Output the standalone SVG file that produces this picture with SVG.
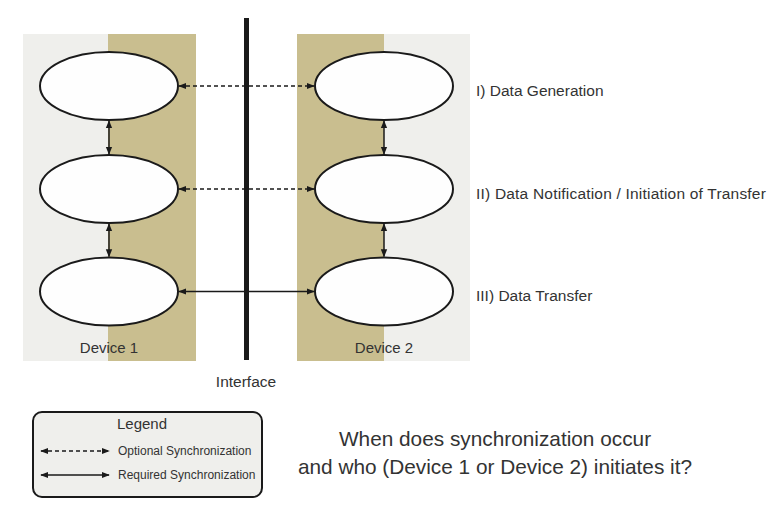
<svg xmlns="http://www.w3.org/2000/svg" width="782" height="508" viewBox="0 0 782 508">
<style>
.bg{fill:#efefec}
.tan{fill:#c9be8f}
.node{fill:#fefefe;stroke:#1a1a1a;stroke-width:2}
.c{stroke:#1a1a1a;stroke-width:1.5;fill:none}
.opt{stroke-dasharray:4 3}
text{font-family:"Liberation Sans",Arial,sans-serif;fill:#333}
.lab{font-size:15.5px}
.wide{font-size:15.5px;letter-spacing:0.2px}
.dev{font-size:15px}
.sm{font-size:12px}
.q{font-size:20.8px}
</style>
<defs>
<marker id="ah" viewBox="0 0 10 10" refX="9" refY="5" markerWidth="8" markerHeight="8" markerUnits="userSpaceOnUse" orient="auto-start-reverse">
<path d="M0,1 L10,5 L0,9 Z" fill="#1a1a1a"/>
</marker>
</defs>
<g id="device1-panel">
<rect class="bg" x="23" y="34" width="173" height="327"/>
<rect class="tan" x="108" y="34" width="88" height="327"/>
<text class="dev" x="109" y="353" text-anchor="middle">Device 1</text>
</g>
<g id="device2-panel">
<rect class="bg" x="297" y="34" width="173" height="327"/>
<rect class="tan" x="297" y="34" width="87" height="327"/>
<text class="dev" x="384" y="353" text-anchor="middle">Device 2</text>
</g>
<g id="interface">
<rect x="244" y="18" width="5" height="342" fill="#1a1a1a"/>
<text class="lab" x="246" y="387" text-anchor="middle">Interface</text>
</g>
<g id="d1-gen"><ellipse class="node" cx="109" cy="86" rx="69" ry="34"/></g>
<g id="d1-notif"><ellipse class="node" cx="109" cy="189" rx="69" ry="34"/></g>
<g id="d1-transfer"><ellipse class="node" cx="109" cy="291.5" rx="69" ry="34"/></g>
<g id="d2-gen"><ellipse class="node" cx="384" cy="86" rx="69" ry="34"/></g>
<g id="d2-notif"><ellipse class="node" cx="384" cy="189" rx="69" ry="34"/></g>
<g id="d2-transfer"><ellipse class="node" cx="384" cy="291.5" rx="69" ry="34"/></g>
<g id="connectors">
<line class="c opt" x1="179" y1="86" x2="314" y2="86" marker-start="url(#ah)" marker-end="url(#ah)"/>
<line class="c opt" x1="179" y1="189" x2="314" y2="189" marker-start="url(#ah)" marker-end="url(#ah)"/>
<line class="c" x1="179" y1="291.5" x2="314" y2="291.5" marker-start="url(#ah)" marker-end="url(#ah)"/>
<line class="c" x1="109" y1="121" x2="109" y2="154" marker-start="url(#ah)" marker-end="url(#ah)"/>
<line class="c" x1="109" y1="224" x2="109" y2="256.5" marker-start="url(#ah)" marker-end="url(#ah)"/>
<line class="c" x1="384" y1="121" x2="384" y2="154" marker-start="url(#ah)" marker-end="url(#ah)"/>
<line class="c" x1="384" y1="224" x2="384" y2="256.5" marker-start="url(#ah)" marker-end="url(#ah)"/>
</g>
<g id="phase-labels">
<text class="lab" x="476" y="96">I) Data Generation</text>
<text class="wide" x="476" y="199">II) Data Notification / Initiation of Transfer</text>
<text class="lab" x="476" y="301">III) Data Transfer</text>
</g>
<g id="legend">
<rect x="33" y="412" width="229" height="85" rx="9" fill="#efefec" stroke="#1a1a1a" stroke-width="2"/>
<text class="dev" x="142" y="429" text-anchor="middle">Legend</text>
<line class="c opt" x1="41" y1="451" x2="109" y2="451" marker-start="url(#ah)" marker-end="url(#ah)"/>
<text class="sm" x="118" y="455">Optional Synchronization</text>
<line class="c" x1="41" y1="475" x2="109" y2="475" marker-start="url(#ah)" marker-end="url(#ah)"/>
<text class="sm" x="118" y="479">Required Synchronization</text>
</g>
<g id="question">
<text class="q" x="495" y="446" text-anchor="middle">When does synchronization occur</text>
<text class="q" x="495" y="474" text-anchor="middle">and who (Device 1 or Device 2) initiates it?</text>
</g>
</svg>
